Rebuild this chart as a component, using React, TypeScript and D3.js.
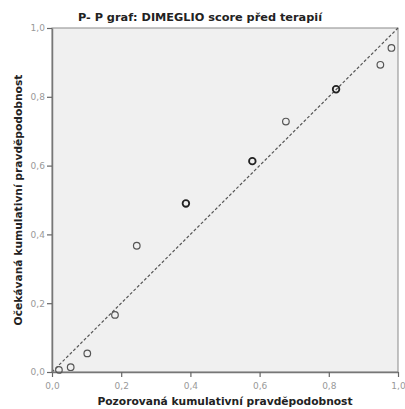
import { useRef, useEffect } from 'react'
import * as d3 from 'd3'

// observed vs expected cumulative probability
const observed = [0.02, 0.054, 0.102, 0.182, 0.245, 0.387, 0.579, 0.676, 0.821, 0.949, 0.981]
const expected = [0.006, 0.014, 0.054, 0.166, 0.367, 0.49, 0.613, 0.728, 0.822, 0.893, 0.942]
// points drawn twice in the original (darker rings)
const doubled = [false, false, false, false, false, true, true, false, true, false, false]
const ticks = [0, 0.2, 0.4, 0.6, 0.8, 1.0]

const title = 'P- P graf: DIMEGLIO score před terapií'
const xTitle = 'Pozorovaná kumulativní pravděpodobnost'
const yTitle = 'Očekávaná kumulativní pravděpodobnost'

export default function App() {
  const svgRef = useRef<SVGSVGElement>(null)

  useEffect(() => {
    if (!svgRef.current) return
    const svg = d3.select(svgRef.current)
    svg.selectAll('*').remove()

    const width = 405
    const height = 409
    const margin = { top: 28, right: 7, bottom: 37, left: 52 }
    const innerW = width - margin.left - margin.right
    const innerH = height - margin.top - margin.bottom

    svg.attr('width', width).attr('height', height)
    svg.append('rect').attr('width', width).attr('height', height).attr('fill', '#ffffff')

    const g = svg.append('g').attr('transform', `translate(${margin.left},${margin.top})`)

    const x = d3.scaleLinear().domain([0, 1]).range([0, innerW])
    const y = d3.scaleLinear().domain([0, 1]).range([innerH, 0])
    const fmt = (d: number) => d3.format('.1f')(d).replace('.', ',')

    g.append('rect')
      .attr('width', innerW).attr('height', innerH)
      .attr('fill', '#f0f0f0')
      .attr('stroke', '#8a8a8a')
      .attr('stroke-width', 1)

    // reference diagonal
    g.append('line')
      .attr('x1', x(0)).attr('y1', y(0))
      .attr('x2', x(1)).attr('y2', y(1))
      .attr('stroke', '#555')
      .attr('stroke-width', 1.2)
      .attr('stroke-dasharray', '3,2')

    const xAxis = d3.axisBottom(x).tickValues(ticks).tickFormat((d) => fmt(d as number)).tickSize(5).tickSizeOuter(0)
    const yAxis = d3.axisLeft(y).tickValues(ticks).tickFormat((d) => fmt(d as number)).tickSize(5).tickSizeOuter(0)

    g.append('g')
      .attr('transform', `translate(0,${innerH})`)
      .call(xAxis)
      .call((a) => a.select('.domain').attr('stroke', '#777').attr('stroke-width', 1.5))
      .call((a) => a.selectAll('.tick line').attr('stroke', '#666').attr('stroke-width', 1.2))
      .call((a) => a.selectAll('.tick text').attr('fill', '#999').attr('font-size', 9).attr('font-family', 'DejaVu Sans').attr('dy', '1em'))

    g.append('g')
      .call(yAxis)
      .call((a) => a.select('.domain').attr('stroke', '#777').attr('stroke-width', 1.5))
      .call((a) => a.selectAll('.tick line').attr('stroke', '#666').attr('stroke-width', 1.2))
      .call((a) => a.selectAll('.tick text').attr('fill', '#999').attr('font-size', 9).attr('font-family', 'DejaVu Sans').attr('dx', '0.1em'))

    g.selectAll('.pt')
      .data(observed.map((o, i) => ({ o, e: expected[i], dbl: doubled[i] })))
      .join('circle')
      .attr('class', 'pt')
      .attr('cx', (d) => x(d.o))
      .attr('cy', (d) => y(d.e))
      .attr('r', 3.3)
      .attr('fill', 'none')
      .attr('stroke', (d) => (d.dbl ? '#222' : '#555'))
      .attr('stroke-width', (d) => (d.dbl ? 1.8 : 1.2))

    svg.append('text')
      .attr('x', 200).attr('y', 21)
      .attr('text-anchor', 'middle')
      .attr('font-family', 'DejaVu Sans')
      .attr('font-weight', 'bold')
      .attr('font-size', 11.3)
      .attr('fill', '#222')
      .text(title)

    svg.append('text')
      .attr('x', margin.left + innerW / 2).attr('y', 405)
      .attr('text-anchor', 'middle')
      .attr('font-family', 'DejaVu Sans')
      .attr('font-weight', 'bold')
      .attr('font-size', 10.7)
      .attr('fill', '#222')
      .text(xTitle)

    svg.append('text')
      .attr('transform', `translate(22,${margin.top + innerH / 2}) rotate(-90)`)
      .attr('text-anchor', 'middle')
      .attr('font-family', 'DejaVu Sans')
      .attr('font-weight', 'bold')
      .attr('font-size', 10.7)
      .attr('fill', '#222')
      .text(yTitle)
  }, [])

  return (
    <div style={{ position: 'absolute', left: 0, top: 0 }}>
      <svg ref={svgRef} style={{ display: 'block' }} />
    </div>
  )
}
